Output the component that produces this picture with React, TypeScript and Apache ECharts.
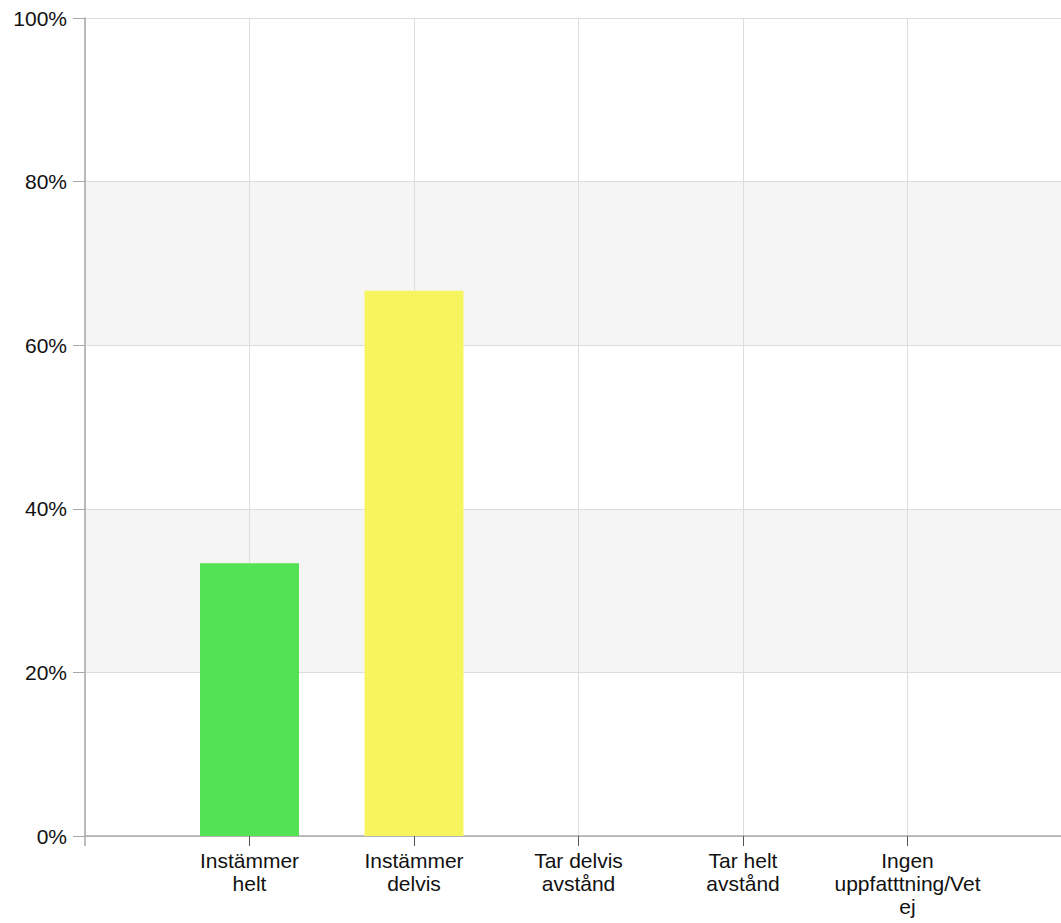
import React, { useEffect, useRef } from "react";
import * as echarts from "echarts";

// Answer options (empty slots pad the axis on both sides)
const categories = [
  "",
  "Instämmer\nhelt",
  "Instämmer\ndelvis",
  "Tar delvis\navstånd",
  "Tar helt\navstånd",
  "Ingen\nuppfatttning/Vet\nej",
  "",
];
// Share of answers, percent
const shares = [null, 33.33, 66.67, 0, 0, 0, null];
const barColors = ["#ffffff", "#53e254", "#f7f55e", "#cccccc", "#cccccc", "#cccccc", "#ffffff"];
const yTicks = [0, 20, 40, 60, 80, 100];

export default function App() {
  const ref = useRef<HTMLDivElement>(null);

  useEffect(() => {
    if (!ref.current) return;
    const chart = echarts.init(ref.current, undefined, { renderer: "svg" });
    const font = "'Liberation Sans', Arial, sans-serif";
    chart.setOption({
      animation: false,
      textStyle: { fontFamily: font },
      grid: {
        left: 85,
        width: 987,
        top: 18,
        bottom: 87,
        containLabel: false,
        outerBoundsMode: "none",
      },
      xAxis: {
        type: "category",
        data: categories,
        boundaryGap: false,
        axisLine: { lineStyle: { color: "#a8a8a8", width: 1.5 } },
        axisTick: {
          length: 10,
          interval: (i: number) => i > 0,
          lineStyle: { color: "#555555" },
        },
        axisLabel: {
          interval: 0,
          color: "#111111",
          fontSize: 21,
          lineHeight: 23,
          margin: 13,
          fontFamily: font,
        },
        splitLine: { show: true, lineStyle: { color: "#dddddd" } },
      },
      yAxis: {
        type: "value",
        min: yTicks[0],
        max: yTicks[yTicks.length - 1],
        interval: 20,
        axisLine: { show: true, lineStyle: { color: "#a8a8a8", width: 1.5 } },
        axisTick: { show: true, length: 12, lineStyle: { color: "#a8a8a8" } },
        axisLabel: {
          color: "#111111",
          fontSize: 21,
          margin: 18,
          fontFamily: font,
          formatter: (v: number) => `${v}%`,
        },
        splitLine: { show: true, lineStyle: { color: "#dddddd" } },
        splitArea: { show: true, areaStyle: { color: ["#ffffff", "#f5f5f5"] } },
      },
      graphic: [
        {
          type: "line",
          shape: { x1: 85, y1: 836, x2: 85, y2: 846 },
          style: { stroke: "#a8a8a8", lineWidth: 1.5 },
          z: 10,
        },
      ],
      series: [
        {
          type: "bar",
          barWidth: 99,
          data: shares.map((v, i) => ({ value: v, itemStyle: { color: barColors[i] } })),
        },
      ],
    });
    return () => chart.dispose();
  }, []);

  return (
    <div
      ref={ref}
      style={{ position: "fixed", left: 0, top: 0, width: 1061, height: 923, background: "#ffffff" }}
    />
  );
}
